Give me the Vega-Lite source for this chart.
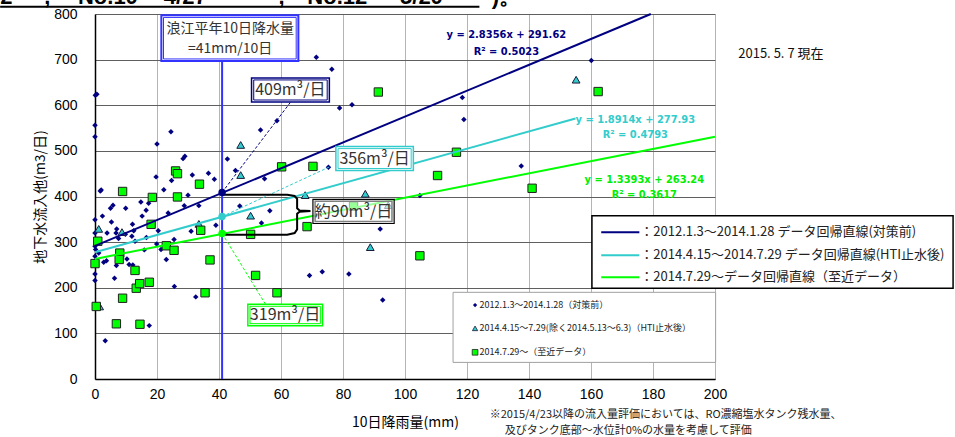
{
  "$schema": "https://vega.github.io/schema/vega-lite/v6.json",
  "width": 620,
  "height": 365,
  "autosize": {"type": "none"},
  "padding": {"left": 95, "top": 14, "right": 240, "bottom": 58},
  "background": "white",
  "config": {"view": {"stroke": null}},
  "encoding": {
    "x": {"field": "x", "type": "quantitative", "scale": {"domain": [0, 200], "nice": false, "zero": false},
      "axis": {"title": "10日降雨量(mm)", "values": [0, 20, 40, 60, 80, 100, 120, 140, 160, 180, 200], "grid": true, "gridColor": "#b4b4b4", "gridWidth": 1, "ticks": false, "tickSize": 0, "domainColor": "#000000", "domainWidth": 1.5, "labelFont": "Liberation Sans", "labelFontSize": 14, "labelColor": "#000000", "labelPadding": 8, "labelFlush": false, "titleFont": "Noto Sans CJK JP", "titleFontSize": 14, "titleFontWeight": "normal", "titleColor": "#000000", "titlePadding": 14}},
    "y": {"field": "y", "type": "quantitative", "scale": {"domain": [0, 800], "nice": false, "zero": false},
      "axis": {"title": "地下水流入他(m3/日)", "values": [0, 100, 200, 300, 400, 500, 600, 700, 800], "grid": true, "gridColor": "#5f5f5f", "gridWidth": 1, "ticks": false, "tickSize": 0, "domainColor": "#000000", "domainWidth": 1.5, "labelFont": "Liberation Sans", "labelFontSize": 14, "labelColor": "#000000", "labelPadding": 18, "labelFlush": false, "titleFont": "Noto Sans CJK JP", "titleFontSize": 14, "titleFontWeight": "normal", "titleColor": "#000000", "titlePadding": 6}}
  },
  "layer": [
    {"data": {"values": [{"x": -30.6, "x2": 124, "y": 816}]},
     "mark": {"type": "rule", "color": "#000000", "strokeWidth": 2, "clip": false},
     "encoding": {"x2": {"field": "x2"}}},
    {"data": {"values": [
      {"x": -30.6, "y": 823, "t": "2"}, {"x": -16.4, "y": 823, "t": ","}, {"x": -5.5, "y": 823, "t": "No.10"},
      {"x": 22.2, "y": 823, "t": "4/27"}, {"x": 59.2, "y": 823, "t": ","}, {"x": 68.5, "y": 823, "t": "No.12"},
      {"x": 98.4, "y": 823, "t": "5/20"}, {"x": 128, "y": 823, "t": ")。"}]},
     "mark": {"type": "text", "align": "left", "baseline": "alphabetic", "font": "Liberation Sans", "fontWeight": "bold", "fontSize": 22, "color": "#000000"},
     "encoding": {"text": {"field": "t"}}},
    {"data": {"values": [
      {"x": 0.1, "y": 622}, {"x": 0.6, "y": 624}, {"x": 0, "y": 556}, {"x": 0, "y": 531}, {"x": 1.7, "y": 412}, {"x": 2, "y": 414},
      {"x": 0, "y": 349}, {"x": 2.4, "y": 357}, {"x": 0, "y": 320}, {"x": 0.6, "y": 302}, {"x": 0, "y": 291}, {"x": 0.2, "y": 284},
      {"x": 0, "y": 269}, {"x": 0, "y": 254}, {"x": 0, "y": 230}, {"x": 0, "y": 216}, {"x": 1.2, "y": 276}, {"x": 2.8, "y": 256},
      {"x": 3.3, "y": 84}, {"x": 3.7, "y": 259}, {"x": 3.9, "y": 320}, {"x": 5.3, "y": 344}, {"x": 5, "y": 374}, {"x": 5.8, "y": 381},
      {"x": 6.8, "y": 320}, {"x": 7, "y": 329}, {"x": 7.6, "y": 308}, {"x": 6.3, "y": 221}, {"x": 6.9, "y": 249}, {"x": 9.9, "y": 374},
      {"x": 9.8, "y": 317}, {"x": 10.3, "y": 263}, {"x": 11, "y": 251}, {"x": 11.9, "y": 313}, {"x": 12.1, "y": 339}, {"x": 12.5, "y": 325},
      {"x": 12.9, "y": 302}, {"x": 12.2, "y": 250}, {"x": 14.8, "y": 388}, {"x": 15.9, "y": 283}, {"x": 15.2, "y": 357}, {"x": 16.5, "y": 370},
      {"x": 17.3, "y": 385}, {"x": 17.5, "y": 117}, {"x": 16.6, "y": 310}, {"x": 20, "y": 515}, {"x": 19.7, "y": 443}, {"x": 19.9, "y": 296},
      {"x": 20.4, "y": 325}, {"x": 22.2, "y": 415}, {"x": 21.3, "y": 284}, {"x": 23, "y": 262}, {"x": 23.6, "y": 364}, {"x": 24.5, "y": 542},
      {"x": 24.7, "y": 435}, {"x": 25.6, "y": 203}, {"x": 25.5, "y": 306}, {"x": 28.4, "y": 483}, {"x": 29, "y": 488}, {"x": 30, "y": 403},
      {"x": 28.8, "y": 380}, {"x": 31, "y": 324}, {"x": 31.4, "y": 447}, {"x": 32.5, "y": 180}, {"x": 33.5, "y": 380}, {"x": 36.6, "y": 451},
      {"x": 38.5, "y": 438}, {"x": 39, "y": 337}, {"x": 42.7, "y": 482}, {"x": 45.3, "y": 457}, {"x": 46.7, "y": 379}, {"x": 53.4, "y": 546},
      {"x": 54.7, "y": 439}, {"x": 58.7, "y": 566}, {"x": 56.4, "y": 369}, {"x": 53.7, "y": 342}, {"x": 71.4, "y": 705}, {"x": 76.4, "y": 679},
      {"x": 78.9, "y": 594}, {"x": 82.9, "y": 601}, {"x": 75.3, "y": 464}, {"x": 92, "y": 329}, {"x": 104.8, "y": 402}, {"x": 69.2, "y": 227},
      {"x": 73.3, "y": 235}, {"x": 81.9, "y": 230}, {"x": 92.8, "y": 173}, {"x": 118.5, "y": 617}, {"x": 119, "y": 569}, {"x": 137.5, "y": 467},
      {"x": 160.1, "y": 698}]},
     "mark": {"type": "point", "shape": "diamond", "filled": true, "color": "#000080", "opacity": 1, "size": 30}},
    {"data": {"values": [
      {"x": 1.2, "y": 329}, {"x": 8.7, "y": 322}, {"x": 33.5, "y": 340}, {"x": 1.5, "y": 159}, {"x": 47, "y": 513}, {"x": 47, "y": 447},
      {"x": 50.2, "y": 358}, {"x": 67.8, "y": 403}, {"x": 87.2, "y": 406}, {"x": 88.8, "y": 289}, {"x": 155.2, "y": 656}, {"x": 94.6, "y": 381}]},
     "mark": {"type": "point", "shape": "triangle-up", "filled": true, "fill": "#33cccc", "stroke": "#1a1a3a", "strokeWidth": 1, "opacity": 1, "size": 60}},
    {"data": {"values": [
      {"x": 0.9, "y": 302}, {"x": 0, "y": 253}, {"x": 0.4, "y": 159}, {"x": 8.9, "y": 411}, {"x": 18.5, "y": 398}, {"x": 18.1, "y": 339},
      {"x": 8, "y": 276}, {"x": 7.8, "y": 262}, {"x": 6.9, "y": 121}, {"x": 8.9, "y": 177}, {"x": 12.9, "y": 238}, {"x": 13.3, "y": 199},
      {"x": 14.4, "y": 209}, {"x": 17.5, "y": 212}, {"x": 14.5, "y": 120}, {"x": 26, "y": 456}, {"x": 26.6, "y": 450}, {"x": 26.6, "y": 399},
      {"x": 23, "y": 292}, {"x": 25.5, "y": 282}, {"x": 33.7, "y": 427}, {"x": 34.1, "y": 326}, {"x": 37.1, "y": 261}, {"x": 35.5, "y": 189},
      {"x": 50.2, "y": 317}, {"x": 51.8, "y": 227}, {"x": 58.7, "y": 189}, {"x": 60.2, "y": 465}, {"x": 70.3, "y": 466}, {"x": 68.4, "y": 334},
      {"x": 83.4, "y": 379}, {"x": 91.4, "y": 629}, {"x": 104.8, "y": 270}, {"x": 110.5, "y": 446}, {"x": 116.6, "y": 497}, {"x": 141, "y": 418},
      {"x": 162.3, "y": 630}]},
     "mark": {"type": "point", "shape": "square", "filled": true, "fill": "#00ff00", "stroke": "#202020", "strokeWidth": 1, "opacity": 1, "size": 70}},
    {"data": {"values": [{"x": 0, "y": 291.62, "x2": 179.3, "y2": 800}]},
     "mark": {"type": "rule", "color": "#000080", "strokeWidth": 2},
     "encoding": {"x2": {"field": "x2"}, "y2": {"field": "y2"}}},
    {"data": {"values": [{"x": 0, "y": 277.93, "x2": 155, "y2": 571.1}]},
     "mark": {"type": "rule", "color": "#33cccc", "strokeWidth": 2},
     "encoding": {"x2": {"field": "x2"}, "y2": {"field": "y2"}}},
    {"data": {"values": [{"x": 0, "y": 263.24, "x2": 200, "y2": 531.1}]},
     "mark": {"type": "rule", "color": "#00ff00", "strokeWidth": 2},
     "encoding": {"x2": {"field": "x2"}, "y2": {"field": "y2"}}},
    {"data": {"values": [{"x": 41, "y": 0, "y2": 800}]},
     "mark": {"type": "rule", "color": "#3333ff", "strokeWidth": 2},
     "encoding": {"y2": {"field": "y2"}}},
    {"data": {"values": [{"x": 41, "y": 409, "x2": 63, "y2": 606}]},
     "mark": {"type": "rule", "color": "#000080", "strokeWidth": 1, "strokeDash": [3, 2]},
     "encoding": {"x2": {"field": "x2"}, "y2": {"field": "y2"}}},
    {"data": {"values": [{"x": 41, "y": 356, "x2": 76, "y2": 466}]},
     "mark": {"type": "rule", "color": "#33cccc", "strokeWidth": 1, "strokeDash": [3, 2]},
     "encoding": {"x2": {"field": "x2"}, "y2": {"field": "y2"}}},
    {"data": {"values": [{"x": 41, "y": 319, "x2": 55, "y2": 164}]},
     "mark": {"type": "rule", "color": "#00ff00", "strokeWidth": 1, "strokeDash": [3, 2]},
     "encoding": {"x2": {"field": "x2"}, "y2": {"field": "y2"}}},
    {"data": {"values": [
      {"o": 1, "x": 41.4, "y": 404}, {"o": 2, "x": 62, "y": 404}, {"o": 3, "x": 64.4, "y": 401}, {"o": 4, "x": 65.2, "y": 395},
      {"o": 5, "x": 65.2, "y": 374}, {"o": 6, "x": 66, "y": 369.5}, {"o": 7, "x": 69.5, "y": 368}, {"o": 8, "x": 66, "y": 366.5},
      {"o": 9, "x": 65.2, "y": 362}, {"o": 10, "x": 65.2, "y": 328}, {"o": 11, "x": 64.4, "y": 320}, {"o": 12, "x": 62, "y": 316},
      {"o": 13, "x": 41.4, "y": 316}]},
     "mark": {"type": "line", "color": "#000000", "strokeWidth": 2},
     "encoding": {"order": {"field": "o", "type": "quantitative"}}},
    {"data": {"values": [{"x": 41, "y": 409}]},
     "mark": {"type": "point", "shape": "circle", "filled": true, "color": "#000080", "opacity": 1, "size": 55}},
    {"data": {"values": [{"x": 41, "y": 356}]},
     "mark": {"type": "point", "shape": "circle", "filled": true, "color": "#33cccc", "opacity": 1, "size": 55}},
    {"data": {"values": [{"x": 41, "y": 319}]},
     "mark": {"type": "point", "shape": "circle", "filled": true, "color": "#00ff00", "opacity": 1, "size": 55}},
    {"data": {"values": [{"x": 21.4, "x2": 65.6, "y": 797, "y2": 697}]},
     "mark": {"type": "rect", "fill": "#ffffff", "stroke": "#3333ff", "strokeWidth": 2},
     "encoding": {"x2": {"field": "x2"}, "y2": {"field": "y2"}}},
    {"data": {"values": [{"x": 22.1, "x2": 64.9, "y": 792.5, "y2": 701.5}]},
     "mark": {"type": "rect", "fill": "#ffffff", "stroke": "#3333ff", "strokeWidth": 1},
     "encoding": {"x2": {"field": "x2"}, "y2": {"field": "y2"}}},
    {"data": {"values": [{"x": 43.6, "y": 767, "t": "浪江平年10日降水量"}, {"x": 43.6, "y": 723, "t": "=41mm/10日"}]},
     "mark": {"type": "text", "align": "center", "baseline": "middle", "font": "Noto Sans CJK JP", "fontSize": 14, "color": "#333333"},
     "encoding": {"text": {"field": "t"}}},
    {"data": {"values": [{"x": 50.5, "x2": 75.6, "y": 660, "y2": 607}]},
     "mark": {"type": "rect", "fill": "#ffffff", "stroke": "#000080", "strokeWidth": 1.5},
     "encoding": {"x2": {"field": "x2"}, "y2": {"field": "y2"}}},
    {"data": {"values": [{"x": 51.2, "x2": 74.9, "y": 655.5, "y2": 611.5}]},
     "mark": {"type": "rect", "fill": "#ffffff", "stroke": "#000080", "strokeWidth": 1},
     "encoding": {"x2": {"field": "x2"}, "y2": {"field": "y2"}}},
    {"data": {"values": [{"x": 77.7, "x2": 102.7, "y": 509.4, "y2": 457}]},
     "mark": {"type": "rect", "fill": "#ffffff", "stroke": "#33cccc", "strokeWidth": 1.5},
     "encoding": {"x2": {"field": "x2"}, "y2": {"field": "y2"}}},
    {"data": {"values": [{"x": 78.4, "x2": 102, "y": 505, "y2": 461.4}]},
     "mark": {"type": "rect", "fill": "#ffffff", "stroke": "#33cccc", "strokeWidth": 1},
     "encoding": {"x2": {"field": "x2"}, "y2": {"field": "y2"}}},
    {"data": {"values": [{"x": 49.3, "x2": 73.4, "y": 163.8, "y2": 116.9}]},
     "mark": {"type": "rect", "fill": "#ffffff", "stroke": "#00ff00", "strokeWidth": 1.5},
     "encoding": {"x2": {"field": "x2"}, "y2": {"field": "y2"}}},
    {"data": {"values": [{"x": 50, "x2": 72.7, "y": 159.4, "y2": 121.3}]},
     "mark": {"type": "rect", "fill": "#ffffff", "stroke": "#00ff00", "strokeWidth": 1},
     "encoding": {"x2": {"field": "x2"}, "y2": {"field": "y2"}}},
    {"data": {"values": [{"x": 70.3, "x2": 96.5, "y": 393.9, "y2": 340.8}]},
     "mark": {"type": "rect", "fill": "#ffffff", "fillOpacity": 0.6, "stroke": "#000000", "strokeWidth": 1.2},
     "encoding": {"x2": {"field": "x2"}, "y2": {"field": "y2"}}},
    {"data": {"values": [{"x": 71, "x2": 95.8, "y": 389.5, "y2": 345.2}]},
     "mark": {"type": "rect", "fill": "#ffffff", "fillOpacity": 0, "stroke": "#808080", "strokeWidth": 1.5},
     "encoding": {"x2": {"field": "x2"}, "y2": {"field": "y2"}}},
    {"data": {"values": [
      {"x": 63, "y": 633, "t": "409m³/日"}, {"x": 90.2, "y": 483, "t": "356m³/日"},
      {"x": 61.3, "y": 140.4, "t": "319m³/日"}, {"x": 83.4, "y": 367, "t": "約90m³/日"}]},
     "mark": {"type": "text", "align": "center", "baseline": "middle", "font": "Noto Sans CJK JP", "fontSize": 16, "color": "#333333"},
     "encoding": {"text": {"field": "t"}}},
    {"data": {"values": [{"x": 132.7, "y": 753, "t": "y = 2.8356x + 291.62"}, {"x": 132.7, "y": 716, "t": "R² = 0.5023"}]},
     "mark": {"type": "text", "align": "center", "baseline": "middle", "font": "'DejaVu Sans Condensed', 'Liberation Sans', sans-serif", "fontWeight": "bold", "fontSize": 11, "color": "#000080"},
     "encoding": {"text": {"field": "t"}}},
    {"data": {"values": [{"x": 174.3, "y": 568, "t": "y = 1.8914x + 277.93"}, {"x": 174.3, "y": 535, "t": "R² = 0.4793"}]},
     "mark": {"type": "text", "align": "center", "baseline": "middle", "font": "'DejaVu Sans Condensed', 'Liberation Sans', sans-serif", "fontWeight": "bold", "fontSize": 11, "color": "#33cccc"},
     "encoding": {"text": {"field": "t"}}},
    {"data": {"values": [{"x": 177.2, "y": 436, "t": "y = 1.3393x + 263.24"}, {"x": 177.2, "y": 403, "t": "R² = 0.3617"}]},
     "mark": {"type": "text", "align": "center", "baseline": "middle", "font": "'DejaVu Sans Condensed', 'Liberation Sans', sans-serif", "fontWeight": "bold", "fontSize": 11, "color": "#00ee00"},
     "encoding": {"text": {"field": "t"}}},
    {"data": {"values": [{"x": 160.3, "x2": 276.8, "y": 358, "y2": 199}]},
     "mark": {"type": "rect", "fill": "#ffffff", "stroke": "#000000", "strokeWidth": 1.5, "clip": false},
     "encoding": {"x2": {"field": "x2"}, "y2": {"field": "y2"}}},
    {"data": {"values": [{"x": 163.3, "x2": 175.6, "y": 321.7}]},
     "mark": {"type": "rule", "color": "#000080", "strokeWidth": 2},
     "encoding": {"x2": {"field": "x2"}}},
    {"data": {"values": [{"x": 163.3, "x2": 175.6, "y": 271.3}]},
     "mark": {"type": "rule", "color": "#33cccc", "strokeWidth": 2},
     "encoding": {"x2": {"field": "x2"}}},
    {"data": {"values": [{"x": 163.3, "x2": 175.6, "y": 223}]},
     "mark": {"type": "rule", "color": "#00ff00", "strokeWidth": 2},
     "encoding": {"x2": {"field": "x2"}}},
    {"data": {"values": [
      {"x": 175.9, "y": 321.7, "t": "：2012.1.3～2014.1.28 データ回帰直線(対策前)"},
      {"x": 175.9, "y": 271.3, "t": "：2014.4.15～2014.7.29 データ回帰直線(HTI止水後)"},
      {"x": 175.9, "y": 223, "t": "：2014.7.29～データ回帰直線（至近データ）"}]},
     "mark": {"type": "text", "align": "left", "baseline": "middle", "font": "Noto Sans CJK JP", "fontSize": 13, "color": "#222222"},
     "encoding": {"text": {"field": "t"}}},
    {"data": {"values": [{"x": 115.5, "x2": 200.2, "y": 190, "y2": 36.4}]},
     "mark": {"type": "rect", "fill": "#ffffff", "stroke": "#a0a0a0", "strokeWidth": 1},
     "encoding": {"x2": {"field": "x2"}, "y2": {"field": "y2"}}},
    {"data": {"values": [{"x": 122.6, "y": 162}]},
     "mark": {"type": "point", "shape": "diamond", "filled": true, "color": "#000080", "opacity": 1, "size": 18}},
    {"data": {"values": [{"x": 122.6, "y": 111}]},
     "mark": {"type": "point", "shape": "triangle-up", "filled": true, "fill": "#33cccc", "stroke": "#1a1a3a", "strokeWidth": 0.8, "opacity": 1, "size": 28}},
    {"data": {"values": [{"x": 122.6, "y": 58.5}]},
     "mark": {"type": "point", "shape": "square", "filled": true, "fill": "#00ff00", "stroke": "#202020", "strokeWidth": 0.8, "opacity": 1, "size": 32}},
    {"data": {"values": [
      {"x": 124, "y": 162, "t": "2012.1.3～2014.1.28（対策前）"},
      {"x": 124, "y": 111, "t": "2014.4.15～7.29(除く2014.5.13～6.3)（HTI止水後）"},
      {"x": 124, "y": 58.5, "t": "2014.7.29～（至近データ）"}]},
     "mark": {"type": "text", "align": "left", "baseline": "middle", "font": "Noto Sans CJK JP", "fontSize": 9, "color": "#222222"},
     "encoding": {"text": {"field": "t"}}},
    {"data": {"values": [{"x": 207.5, "y": 713, "t": "2015. 5. 7 現在"}]},
     "mark": {"type": "text", "align": "left", "baseline": "middle", "font": "Noto Sans CJK JP", "fontSize": 13, "color": "#111111"},
     "encoding": {"text": {"field": "t"}}},
    {"data": {"values": [
      {"x": 127.3, "y": -79, "t": "※2015/4/23以降の流入量評価においては、RO濃縮塩水タンク残水量、"},
      {"x": 132.2, "y": -114, "t": "及びタンク底部～水位計0%の水量を考慮して評価"}]},
     "mark": {"type": "text", "align": "left", "baseline": "middle", "font": "Noto Sans CJK JP", "fontSize": 11, "color": "#222222"},
     "encoding": {"text": {"field": "t"}}}
  ]
}
